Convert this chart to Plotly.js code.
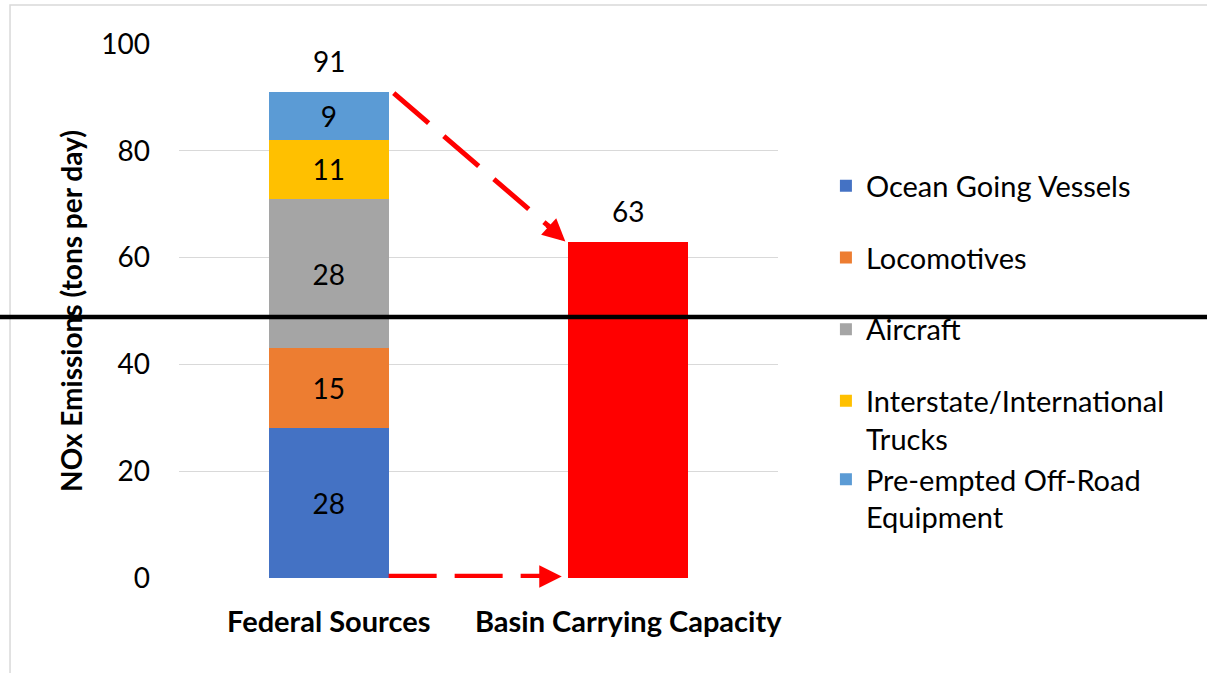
<!DOCTYPE html>
<html>
<head>
<meta charset="utf-8">
<script src="https://cdn.plot.ly/plotly-3.0.1.min.js"></script>
<style>html,body{margin:0;padding:0;background:#fff;}</style>
</head>
<body>
<div id="chart" style="width:1207px;height:673px;"></div>
<script>
// ---- data ----
const categories = ["Federal Sources", "Basin Carrying Capacity"];
const sourceNames = ["Ocean Going Vessels", "Locomotives", "Aircraft", "Interstate/International<br>Trucks", "Pre-empted Off-Road<br>Equipment"];
const sourceValues = [28, 15, 28, 11, 9];
const sourceColors = ["#4472C4", "#ED7D31", "#A5A5A5", "#FFC000", "#5B9BD5"];
const legendGroups = ["g1", "g2", "g3", "g4", "g4"];
const basinValue = 63;
const basinColor = "#FF0000";
const yTicks = [0, 20, 40, 60, 80, 100];

const FONT = "Lato, 'Liberation Sans', sans-serif";
const traces = [];
sourceNames.forEach((name, i) => {
  traces.push({
    type: "bar",
    name: name,
    x: [categories[0]],
    y: [sourceValues[i]],
    width: 0.4,
    marker: {color: sourceColors[i]},
    text: [String(sourceValues[i])],
    textposition: "inside",
    insidetextanchor: "middle",
    textangle: 0,
    constraintext: "none",
    textfont: {family: FONT, size: 28, color: "#000"},
    legendgroup: legendGroups[i],
    hoverinfo: "skip"
  });
});
traces.push({
  type: "bar",
  name: categories[1],
  x: [categories[1]],
  y: [basinValue],
  width: 0.4,
  marker: {color: basinColor},
  showlegend: false,
  hoverinfo: "skip"
});

const federalTotal = sourceValues.reduce((a, b) => a + b, 0);
const totals = [federalTotal, basinValue];

const annotations = totals.map((t, i) => ({
  x: categories[i], y: t, xref: "x", yref: "y",
  text: String(t), showarrow: false, yanchor: "bottom", yshift: 12,
  font: {family: FONT, size: 28, color: "#000"}
}));
// arrowheads
annotations.push({
  x: 0.79, y: 63, xref: "x", yref: "y", axref: "x", ayref: "y",
  ax: 0.725, ay: 66.3, text: "", showarrow: true,
  arrowhead: 2, arrowsize: 0.9, arrowwidth: 5, arrowcolor: "#FF0000"
});
annotations.push({
  x: 0.778, y: 0.3, xref: "x", yref: "y", axref: "x", ayref: "y",
  ax: 0.70, ay: 0.3, text: "", showarrow: true,
  arrowhead: 2, arrowsize: 0.9, arrowwidth: 5, arrowcolor: "#FF0000"
});

const shapes = [
  {type: "rect", xref: "paper", yref: "paper", x0: -0.2821, x1: 1.73, y0: -0.19, y1: 1.073,
   line: {color: "#d9d9d9", width: 1.5}, fillcolor: "rgba(0,0,0,0)", layer: "below"},
  {type: "line", xref: "x", yref: "y", x0: 0.217, y0: 90.8, x1: 0.74, y1: 65.6,
   line: {color: "#FF0000", width: 5, dash: "46px,20px"}},
  {type: "line", xref: "x", yref: "y", x0: 0.2, y0: 0.3, x1: 0.72, y1: 0.3,
   line: {color: "#FF0000", width: 5.5, dash: "48px,18px"}},
  {type: "line", xref: "paper", yref: "paper", x0: -0.31, x1: 1.73, y0: 0.4888, y1: 0.4888,
   line: {color: "#000", width: 4.5}}
];

const layout = {
  width: 1207, height: 673,
  margin: {l: 179, r: 429, t: 44, b: 95},
  paper_bgcolor: "#fff", plot_bgcolor: "#fff",
  barmode: "stack",
  font: {family: FONT, color: "#000"},
  xaxis: {
    type: "category", range: [-0.5, 1.5],
    showgrid: false, showline: false, zeroline: false, ticks: "",
    tickfont: {family: FONT, size: 29, color: "#000", weight: "bold"},
    ticklabelstandoff: 24
  },
  yaxis: {
    range: [0, 100], tickvals: yTicks, ticktext: yTicks.map(String),
    showgrid: true, gridcolor: "#d9d9d9", gridwidth: 1.3,
    zeroline: false, showline: false, ticks: "",
    tickfont: {family: FONT, size: 28, color: "#000"},
    ticklabelstandoff: 28,
    title: {text: "<b>NOx Emissions (tons per day)</b>", font: {family: FONT, size: 28, color: "#000"}, standoff: 10}
  },
  legend: {
    x: 1.08, xanchor: "left", y: 0.782, yanchor: "top",
    traceorder: "grouped", tracegroupgap: 31, valign: "top",
    font: {family: FONT, size: 29, color: "#000"},
    bgcolor: "rgba(0,0,0,0)"
  },
  showlegend: true,
  annotations: annotations,
  shapes: shapes
};

Plotly.newPlot("chart", traces, layout, {displayModeBar: false, staticPlot: true});
</script>
</body>
</html>
